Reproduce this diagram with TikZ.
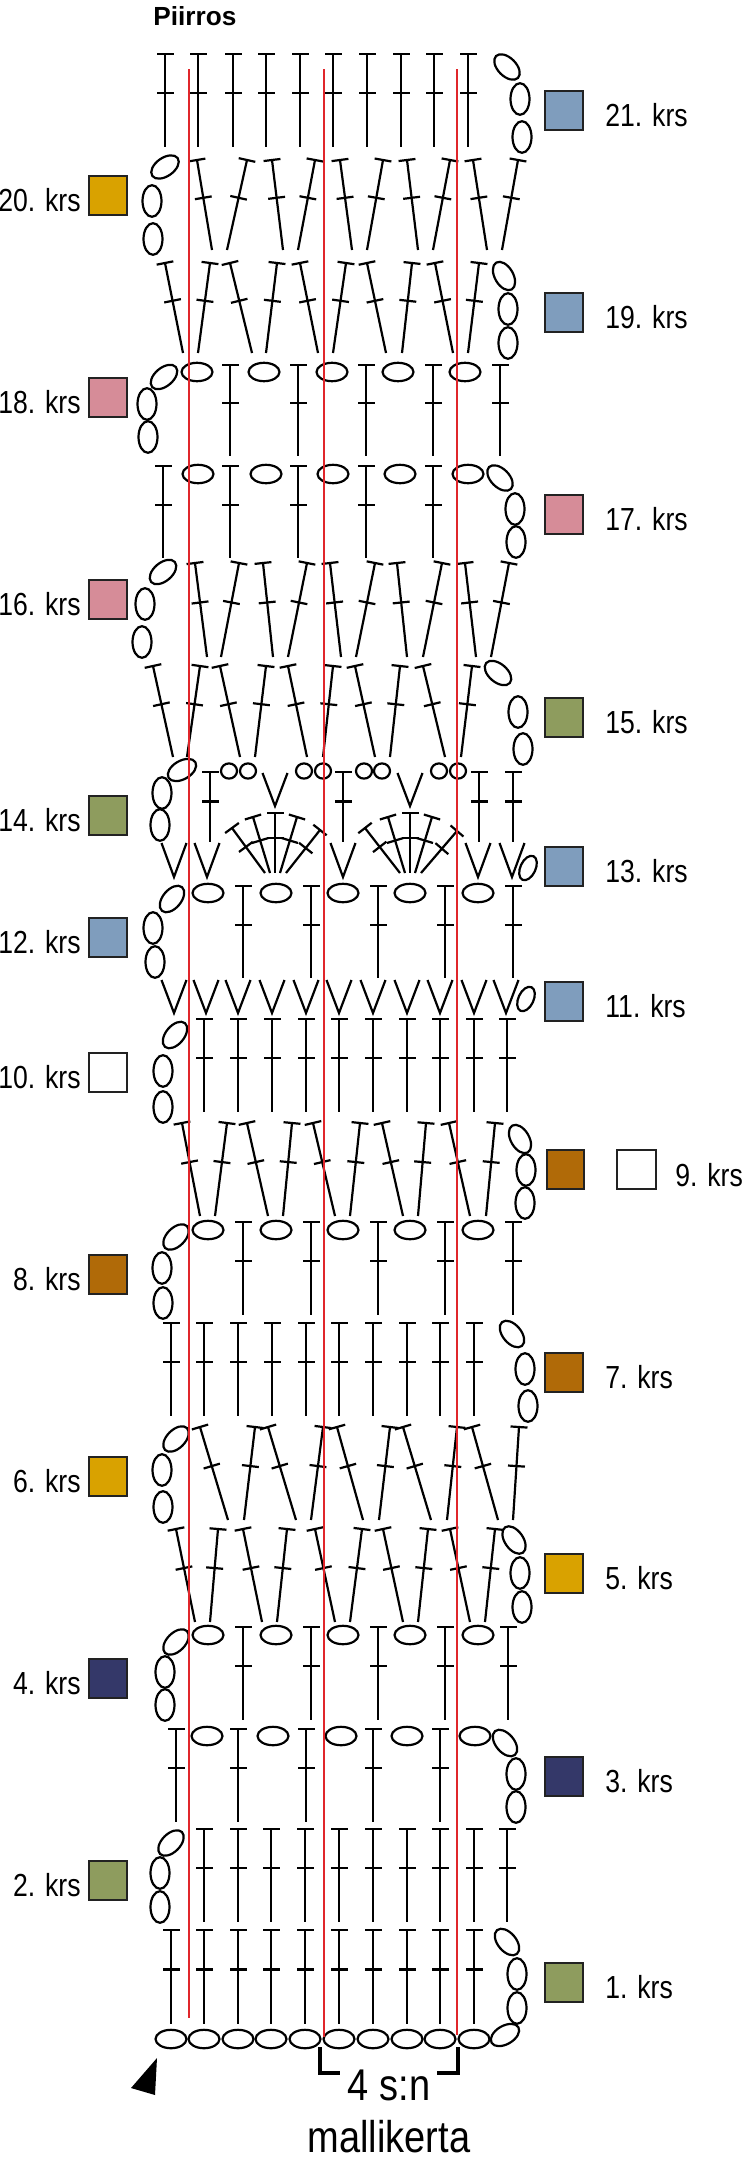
\documentclass[tikz,border=0pt]{standalone}
\usepackage{fontspec}
\setmainfont{Liberation Sans}
\usetikzlibrary{calc}
\definecolor{cblue}{HTML}{7F9DBD}
\definecolor{cgold}{HTML}{D9A200}
\definecolor{cpink}{HTML}{D68C98}
\definecolor{cgreen}{HTML}{8E9C5E}
\definecolor{cbrown}{HTML}{B06A08}
\definecolor{cnavy}{HTML}{343869}
\definecolor{cred}{HTML}{E0262B}
\definecolor{cframe}{HTML}{222222}
\tikzset{
  st/.style={line width=1.1pt, black},
  redline/.style={line width=1.05pt, cred},
  sq/.style={line width=1pt, draw=cframe},
  lbl/.style={font=\fontsize{13.3}{16}\selectfont, inner sep=0pt},
  big/.style={font=\fontsize{19}{22}\selectfont, inner sep=0pt}
}
\newcommand\dcst[4]{%
  \coordinate (dT) at (#1,#2); \coordinate (dB) at (#3,#4);
  \coordinate (dC) at ($(dT)!0.42!(dB)$);
  \draw[st] (dT) -- (dB);
  \draw[st] ($(dT)!4.25pt!90:(dB)$) -- ($(dT)!4.25pt!-90:(dB)$);
  \draw[st] ($(dC)!4.25pt!90:(dB)$) -- ($(dC)!4.25pt!-90:(dB)$);
}
\newcommand\chh[2]{\draw[st] (#1,#2) ellipse[x radius=7.75pt, y radius=4.6pt];}
\newcommand\chv[2]{\draw[st] (#1,#2) ellipse[x radius=4.75pt, y radius=7.9pt];}
\newcommand\cht[3]{\draw[st, rotate around={#3:(#1,#2)}] (#1,#2) ellipse[x radius=7.75pt, y radius=4.6pt];}
\newcommand\chs[3]{\draw[st, rotate around={#3:(#1,#2)}] (#1,#2) ellipse[x radius=6.5pt, y radius=3.8pt];}
\newcommand\sml[2]{\draw[st] (#1,#2) ellipse[x radius=4pt, y radius=3.8pt];}
\newcommand\vst[3]{\draw[st] ({#1-12.5},#2) -- (#1,#3) -- ({#1+12.5},#2);}
\newcommand\lleft[3]{%
  \draw[sq, fill=#3] (89,{#1-19.5}) rectangle (127,{#1+19.5});
  \node[lbl, anchor=base east] at (81,{#1+16}) {\scalebox{1}[1.2]{#2}};}
\newcommand\lright[3]{%
  \draw[sq, fill=#3] (545,{#1-19.5}) rectangle (583,{#1+19.5});
  \node[lbl, anchor=base west] at (605,{#1+16}) {\scalebox{1}[1.2]{#2}};}
\begin{document}
\begin{tikzpicture}[x=0.5pt, y=-0.5pt]
\useasboundingbox (0,0) rectangle (742,2158);
\fill[white] (0,0) rectangle (742,2158);
% title
\node[anchor=base west, inner sep=0pt, font=\bfseries\fontsize{13.1}{16}\selectfont] (title) at (153,25) {Piirros};
% base chain
\foreach \x in {171,204,238,271,305,339,373,407,440,474} {\chh{\x}{2039}}
\cht{505}{2035}{30}
% row 1
\foreach \x in {171,204,238,271,305,339,373,407,440,474} {\dcst{\x}{1930}{\x}{2024}}
\chv{517}{2008}\chv{517}{1974}\cht{507}{1942}{-50}
% row 2
\foreach \x in {204,238,271,305,339,373,407,440,474,507} {\dcst{\x}{1829}{\x}{1922}}
\chv{160}{1907}\chv{160}{1873}\cht{171}{1843}{45}
% row 3
\foreach \x in {176,238,306,373,440} {\dcst{\x}{1729}{\x}{1822}}
\foreach \x in {207,273,341,407,475} {\chh{\x}{1736}}
\chv{516}{1807}\chv{516}{1774}\cht{505}{1743}{-50}
% row 4
\foreach \x in {208,276,343,410,478} {\chh{\x}{1635}}
\foreach \x in {243,311,378,445,508} {\dcst{\x}{1627}{\x}{1720}}
\chv{165}{1705}\chv{165}{1672}\cht{176}{1642}{45}
% row 5
\foreach \a/\b in {176/195,218/210,243/262,287/277,315/335,362/350,383/403,428/418,450/470,495/485} {\dcst{\a}{1529}{\b}{1622}}
\chv{522}{1607}\chv{520}{1573}\cht{514}{1540}{-55}
% row 6
\foreach \a/\b in {200/228,255/244,268/296,323/311,337/363,390/379,403/431,457/447,472/498,519/513} {\dcst{\a}{1427}{\b}{1520}}
\chv{163}{1507}\chv{162}{1470}\cht{176}{1439}{45}
% row 7
\foreach \x in {171,204,238,272,306,339,373,407,440,474} {\dcst{\x}{1323}{\x}{1416}}
\chv{528}{1406}\chv{525}{1369}\cht{512}{1334}{-50}
% row 8
\foreach \x in {208,276,343,410,478} {\chh{\x}{1230}}
\foreach \x in {243,311,378,445,513} {\dcst{\x}{1222}{\x}{1315}}
\chv{163}{1303}\chv{162}{1268}\cht{176}{1237}{45}
% row 9
\foreach \a/\b in {182/200,227/215,247/268,292/283,313/335,360/350,382/403,426/418,449/470,495/486} {\dcst{\a}{1123}{\b}{1216}}
\chv{525}{1203}\chv{526}{1170}\cht{520}{1139}{-60}
% row 10
\foreach \x in {204,238,272,306,339,373,407,440,474,507} {\dcst{\x}{1019}{\x}{1112}}
\chv{163}{1107}\chv{163}{1071}\cht{175}{1035}{50}
% row 11
\foreach \x in {174,206,238,272,306,339,373,407,440,474,506} {\vst{\x}{980}{1013}}
\chs{526}{999}{65}
% row 12
\foreach \x in {208,276,343,410,478} {\chh{\x}{893}}
\foreach \x in {243,311,378,445,513} {\dcst{\x}{886}{\x}{978}}
\chv{155}{962}\chv{153}{928}\cht{172}{899}{50}
% row 13
\foreach \x in {174,207,343,478,512} {\vst{\x}{843}{877}}
\foreach \a/\b/\c in {232/828/265,253/817/270,275/813/275,297/817/280,320/830/286} {\dcst{\a}{\b}{\c}{873}}
\foreach \a/\b/\c in {365/828/400,388/817/405,410/813/410,432/817/415,457/831/421} {\dcst{\a}{\b}{\c}{873}}
\chs{528}{868}{65}
% row 14
\foreach \x in {210,343,479,513} {\dcst{\x}{772}{\x}{842}}
\foreach \x in {275,410} {\vst{\x}{773}{806}}
\foreach \x in {229,248,304,323,364,382,439,458} {\sml{\x}{771}}
\chv{160}{825}\chv{162}{793}\cht{182}{770}{30}
% row 15
\foreach \a/\b in {153/173,200/187,220/240,266/255,288/307,333/323,355/375,400/390,423/445,472/461} {\dcst{\a}{666}{\b}{757}}
\chv{523}{749}\chv{518}{712}\cht{498}{673}{-40}
% row 16
\foreach \a/\b in {195/207,239/221,263/273,307/288,330/341,375/356,397/407,442/423,465/476,509/491} {\dcst{\a}{563}{\b}{657}}
\chv{142}{642}\chv{145}{604}\cht{163}{572}{40}
% row 17
\foreach \x in {163,230,298,366,433} {\dcst{\x}{466}{\x}{558}}
\foreach \x in {198,266,333,400,468} {\chh{\x}{474}}
\chv{516}{542}\chv{515}{509}\cht{500}{478}{-45}
% row 18
\foreach \x in {197,264,332,398,465} {\chh{\x}{372}}
\foreach \x in {230,298,366,433,500} {\dcst{\x}{365}{\x}{456}}
\chv{148}{437}\chv{147}{404}\cht{164}{377}{40}
% row 19
\foreach \a/\b in {165/183,210/198,230/252,277/266,300/318,346/333,367/386,412/402,435/453,479/468} {\dcst{\a}{263}{\b}{353}}
\chv{508}{343}\chv{508}{309}\cht{504}{276}{-60}
% row 20
\foreach \a/\b in {197/212,247/227,272/283,315/298,340/352,383/367,407/418,450/433,473/487,518/502} {\dcst{\a}{160}{\b}{250}}
\chv{153}{239}\chv{152}{201}\cht{165}{167}{35}
% row 21
\foreach \x in {165,198,233,266,300,333,367,401,434,468} {\dcst{\x}{54}{\x}{147}}
\chv{522}{137}\chv{520}{99}\cht{507}{67}{-45}
% red lines
\coordinate (r1t) at (189,69); \coordinate (r1b) at (189,2018);
\coordinate (r2t) at (324,69); \coordinate (r2b) at (324,2037);
\coordinate (r3t) at (457,69); \coordinate (r3b) at (457,2035);
\draw[redline] (r1t) -- (r1b);
\draw[redline] (r2t) -- (r2b);
\draw[redline] (r3t) -- (r3b);
% left labels
\lleft{195}{20. krs}{cgold}
\lleft{397}{18. krs}{cpink}
\lleft{599}{16. krs}{cpink}
\lleft{815}{14. krs}{cgreen}
\lleft{937}{12. krs}{cblue}
\lleft{1072}{10. krs}{white}
\lleft{1274}{8. krs}{cbrown}
\lleft{1476}{6. krs}{cgold}
\lleft{1678}{4. krs}{cnavy}
\lleft{1880}{2. krs}{cgreen}
% right labels
\lright{110}{21. krs}{cblue}
\lright{312}{19. krs}{cblue}
\lright{514}{17. krs}{cpink}
\lright{717}{15. krs}{cgreen}
\lright{866}{13. krs}{cblue}
\lright{1001}{11. krs}{cblue}
\draw[sq, fill=cbrown] (547,1150) rectangle (584,1189);
\draw[sq, fill=white] (617,1150) rectangle (656,1189);
\node[lbl, anchor=base west] (l9) at (675,1186) {\scalebox{1}[1.2]{9. krs}};
\lright{1372}{7. krs}{cbrown}
\lright{1573}{5. krs}{cgold}
\lright{1776}{3. krs}{cnavy}
\lright{1982}{1. krs}{cgreen}
% start arrow
\fill[black] (157,2058) -- (131,2088) -- (155,2095) -- cycle;
% repeat bracket
\coordinate (bl) at (320,2047); \coordinate (br) at (458,2047);
\draw[line width=1.6pt, black] (bl) -- (320,2073) -- (340,2073);
\draw[line width=1.6pt, black] (437,2073) -- (458,2073) -- (br);
\node[big, anchor=base] (rep) at (389,2100) {\scalebox{1}[1.17]{4 s:n}};
\node[big, anchor=base] (mk) at (389,2152) {\scalebox{1}[1.17]{mallikerta}};
\end{tikzpicture}
\end{document}
